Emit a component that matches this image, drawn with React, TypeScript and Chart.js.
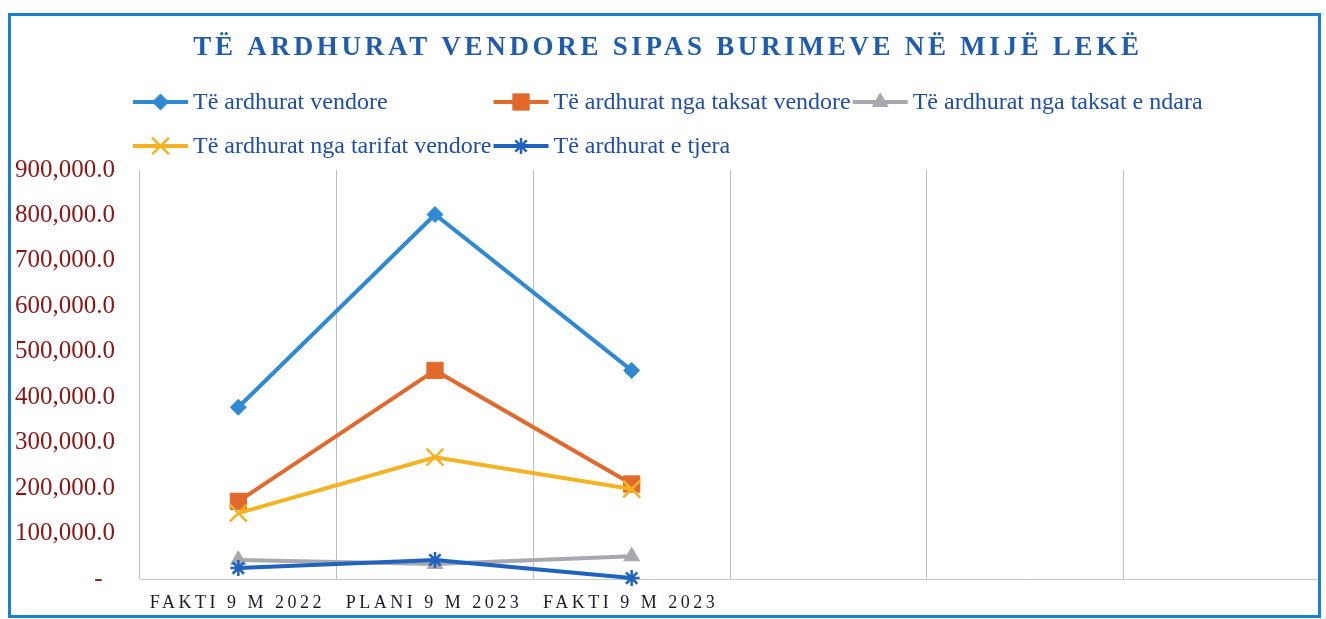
import React, { useEffect, useRef } from 'react';
import { Chart, registerables } from 'chart.js';
import { drawPoint } from 'chart.js/helpers';

Chart.register(...registerables);

const TITLE = 'TË ARDHURAT VENDORE SIPAS BURIMEVE NË MIJË LEKË';
const CATEGORIES = ['FAKTI 9 M 2022', 'PLANI 9 M 2023', 'FAKTI 9 M 2023', '', '', ''];
const SERIES_NAMES = [
  'Të ardhurat vendore',
  'Të ardhurat nga taksat vendore',
  'Të ardhurat nga taksat e ndara',
  'Të ardhurat nga tarifat vendore',
  'Të ardhurat e tjera',
];
const ARDHURAT_VENDORE = [378000, 802000, 459000];
const TAKSAT_VENDORE = [171000, 459000, 209000];
const TAKSAT_E_NDARA = [42000, 33000, 50000];
const TARIFAT_VENDORE = [145000, 268000, 198000];
const ARDHURAT_E_TJERA = [24000, 42000, 2000];
const SERIES_VALUES = [ARDHURAT_VENDORE, TAKSAT_VENDORE, TAKSAT_E_NDARA, TARIFAT_VENDORE, ARDHURAT_E_TJERA];
const COLORS = ['#2F8AD3', '#E2692C', '#A8A8AE', '#F5B324', '#1F63BE'];
const MARKERS = ['rectRot', 'rect', 'triangle', 'crossRot', 'star'];
const MARKER_RADIUS = [8, 11.5, 9, 12, 8];
const MARKER_BORDER = [1, 1, 1, 2.5, 2.5];
const LEGEND_ROWS = [[0, 1, 2], [3, 4]];
const Y_MIN = 0;
const Y_MAX = 900000;
const Y_STEP = 100000;

const SERIF = '"Liberation Serif", "Times New Roman", serif';

const decorPlugin = {
  id: 'decor',
  beforeDraw(chart: any) {
    const { ctx, width, height } = chart;
    ctx.save();
    ctx.fillStyle = '#ffffff';
    ctx.fillRect(0, 0, width, height);
    ctx.restore();
  },
  afterDraw(chart: any) {
    const ctx = chart.ctx;
    ctx.save();
    // frame
    ctx.strokeStyle = '#1C7FD1';
    ctx.lineWidth = 3;
    ctx.strokeRect(9.5, 14.5, 1310, 602);

    // title
    ctx.font = `bold 27px ${SERIF}`;
    (ctx as any).letterSpacing = '3.7px';
    ctx.fillStyle = '#1F5CB0';
    ctx.textAlign = 'center';
    ctx.textBaseline = 'middle';
    ctx.fillText(TITLE, 668, 48);

    // legend (grid layout like the original)
    (ctx as any).letterSpacing = '0px';
    ctx.font = `24px ${SERIF}`;
    const lineLen = 55;
    const gap = 5;
    const itemW = (i: number) => lineLen + gap + ctx.measureText(SERIES_NAMES[i]).width + 2;
    const nCols = Math.max(...LEGEND_ROWS.map((r) => r.length));
    const colW: number[] = [];
    for (let c = 0; c < nCols; c++) {
      colW[c] = Math.max(...LEGEND_ROWS.filter((r) => r[c] !== undefined).map((r) => itemW(r[c])));
    }
    const rowY = [102, 146];
    LEGEND_ROWS.forEach((row, ri) => {
      let x = 133;
      row.forEach((si, ci) => {
        const y = rowY[ri];
        ctx.strokeStyle = COLORS[si];
        ctx.lineWidth = 4;
        ctx.beginPath();
        ctx.moveTo(x, y);
        ctx.lineTo(x + lineLen, y);
        ctx.stroke();
        ctx.fillStyle = COLORS[si];
        ctx.strokeStyle = COLORS[si];
        ctx.lineWidth = MARKER_BORDER[si];
        drawPoint(ctx, { pointStyle: MARKERS[si] as any, rotation: 0, radius: MARKER_RADIUS[si], borderWidth: MARKER_BORDER[si] }, x + lineLen / 2, y);
        ctx.fillStyle = '#1E4EA6';
        ctx.textAlign = 'left';
        ctx.textBaseline = 'middle';
        ctx.fillText(SERIES_NAMES[si], x + lineLen + gap, y + 1);
        x += colW[ci];
      });
    });

    // category labels (positions from the x scale)
    const xs = chart.scales.x;
    ctx.font = `18px ${SERIF}`;
    (ctx as any).letterSpacing = '3.5px';
    ctx.fillStyle = '#1c1c28';
    ctx.textAlign = 'center';
    ctx.textBaseline = 'middle';
    CATEGORIES.forEach((c, i) => {
      if (!c) return;
      ctx.fillText(c, xs.getPixelForValue(i) - 1, 603);
    });
    ctx.restore();
  },
};

export default function App() {
  const ref = useRef<HTMLCanvasElement | null>(null);
  useEffect(() => {
    if (!ref.current) return;
    const chart = new Chart(ref.current, {
      type: 'line',
      data: {
        labels: CATEGORIES,
        datasets: SERIES_VALUES.map((vals, i) => ({
          label: SERIES_NAMES[i],
          data: vals,
          borderColor: COLORS[i],
          backgroundColor: COLORS[i],
          borderWidth: 4,
          pointStyle: MARKERS[i] as any,
          pointRadius: MARKER_RADIUS[i],
          pointBorderWidth: MARKER_BORDER[i],
          pointBackgroundColor: COLORS[i],
          pointBorderColor: COLORS[i],
          tension: 0,
          fill: false,
          clip: false,
          order: SERIES_VALUES.length - 1 - i,
        })),
      },
      options: {
        responsive: false,
        animation: false,
        layout: { autoPadding: false, padding: { left: 0, right: 6, top: 170, bottom: 39 } },
        plugins: {
          legend: { display: false },
          title: { display: false },
          tooltip: { enabled: false },
        },
        scales: {
          x: {
            type: 'category',
            offset: true,
            grid: { display: true, offset: true, color: '#BDBDCB', lineWidth: 1, drawTicks: false },
            border: { display: true, color: '#C8C8D0', width: 1 },
            ticks: { display: false },
            afterFit: (s: any) => { s.height = 0; },
          },
          y: {
            min: Y_MIN,
            max: Y_MAX,
            grid: { display: false, drawTicks: false },
            border: { display: false },
            ticks: {
              stepSize: Y_STEP,
              padding: 25,
              color: '#8B1515',
              font: { family: SERIF, size: 25 },
              callback: (v: any) =>
                Number(v) === 0
                  ? '-  '
                  : Number(v).toLocaleString('en-US', { minimumFractionDigits: 1, maximumFractionDigits: 1 }),
            },
            afterFit: (s: any) => { s.width = 140; },
          },
        },
      },
      plugins: [decorPlugin],
    });
    return () => chart.destroy();
  }, []);
  return (
    <div style={{ position: 'fixed', left: 0, top: 0, width: 1326, height: 619, background: '#fff' }}>
      <canvas ref={ref} width={1326} height={619} style={{ display: 'block' }} />
    </div>
  );
}
